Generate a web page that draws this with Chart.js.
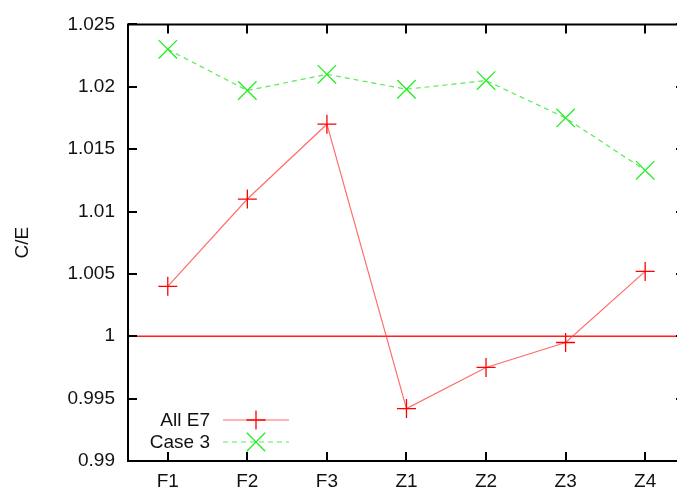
<!DOCTYPE html>
<html>
<head>
<meta charset="utf-8">
<script src="https://cdn.jsdelivr.net/npm/chart.js@4.4.1/dist/chart.umd.min.js"></script>
<style>
  html, body { margin: 0; padding: 0; background: #fff; overflow: hidden; }
  #wrap { width: 677px; height: 488px; }
</style>
</head>
<body>
<div id="wrap"><canvas id="ceChart" width="677" height="488"></canvas></div>
<script>
var categories = ["F1", "F2", "F3", "Z1", "Z2", "Z3", "Z4"];
var allE7 = [1.004, 1.011, 1.017, 0.9942, 0.9975, 0.9995, 1.0052];
var case3 = [1.0230, 1.0197, 1.0210, 1.0198, 1.0205, 1.0175, 1.0133];
var yTicks = [0.99, 0.995, 1, 1.005, 1.01, 1.015, 1.02, 1.025];
var yTickLabels = ["0.99", "0.995", "1", "1.005", "1.01", "1.015", "1.02", "1.025"];
var refLevel = 1;

var FONT = "'Liberation Sans', Arial, sans-serif";

function toPoints(values) {
  return values.map(function (v, i) { return { x: i + 1, y: v }; });
}

// plot area runs right up to the canvas edge (the frame's right side is cut off in the original)
var edgePlugin = {
  id: "edge",
  afterLayout: function (chart) {
    var xs = chart.scales.x;
    var a = chart.chartArea;
    xs.right = chart.width;
    xs.width = xs.right - xs.left;
    xs.configure();
    a.right = chart.width;
    a.width = a.right - a.left;
  }
};

// gnuplot style frame: inward ticks on all sides + legend at bottom left
var framePlugin = {
  id: "frame",
  afterDraw: function (chart) {
    var ctx = chart.ctx;
    var a = chart.chartArea;
    var xs = chart.scales.x, ys = chart.scales.y;
    var right = Math.round(xs.getPixelForValue(7.5));
    var tl = 9;
    ctx.save();
    ctx.strokeStyle = "#000";
    ctx.lineWidth = 2;
    ctx.beginPath();
    ctx.rect(a.left, a.top, right - a.left, a.bottom - a.top);
    ctx.stroke();
    ctx.beginPath();
    yTicks.forEach(function (v) {
      var py = Math.round(ys.getPixelForValue(v));
      ctx.moveTo(a.left, py); ctx.lineTo(a.left + tl, py);
      ctx.moveTo(right, py); ctx.lineTo(right - tl, py);
    });
    categories.forEach(function (c, i) {
      var px = Math.round(xs.getPixelForValue(i + 1));
      ctx.moveTo(px, a.bottom); ctx.lineTo(px, a.bottom - tl);
      ctx.moveTo(px, a.top); ctx.lineTo(px, a.top + tl);
    });
    ctx.stroke();

    // legend
    var rows = [chart.data.datasets[0], chart.data.datasets[1]];
    ctx.font = "19px " + FONT;
    ctx.textAlign = "right";
    ctx.textBaseline = "middle";
    rows.forEach(function (ds, k) {
      var y = 420 + k * 22;
      ctx.fillStyle = "#111";
      ctx.fillText(ds.label, 210, y + 1);
      ctx.strokeStyle = ds.borderColor;
      ctx.lineWidth = 1.2;
      ctx.setLineDash(ds.borderDash || []);
      ctx.beginPath();
      ctx.moveTo(223, y); ctx.lineTo(289, y);
      ctx.stroke();
      ctx.setLineDash([]);
      ctx.strokeStyle = ds.pointBorderColor;
      ctx.lineWidth = 1.3;
      Chart.helpers.drawPoint(ctx, {
        pointStyle: ds.pointStyle,
        radius: ds.pointRadius,
        borderWidth: 1.3
      }, 256, y);
    });
    ctx.restore();
  }
};

new Chart(document.getElementById("ceChart"), {
  type: "line",
  data: {
    datasets: [
      {
        label: "All E7",
        data: toPoints(allE7),
        borderColor: "rgba(255, 60, 60, 0.75)",
        borderWidth: 1.2,
        pointStyle: "cross",
        pointRadius: 9.5,
        pointBorderColor: "#ff0000",
        pointBorderWidth: 1.3,
        tension: 0
      },
      {
        label: "Case 3",
        data: toPoints(case3),
        borderColor: "rgba(60, 230, 60, 0.85)",
        borderWidth: 1.2,
        borderDash: [5, 4],
        pointStyle: "crossRot",
        pointRadius: 13,
        pointBorderColor: "#22ee22",
        pointBorderWidth: 1.3,
        tension: 0
      },
      {
        label: "ref",
        data: [{ x: 0.5, y: refLevel }, { x: 7.5, y: refLevel }],
        borderColor: "#ff2020",
        borderWidth: 1.3,
        pointRadius: 0,
        tension: 0
      }
    ]
  },
  options: {
    responsive: false,
    animation: false,
    layout: { padding: { top: 23, right: 0, left: 0, bottom: 0 } },
    plugins: {
      legend: { display: false },
      tooltip: { enabled: false }
    },
    scales: {
      x: {
        type: "linear",
        min: 0.5,
        max: 7.4,
        grid: { display: false, drawTicks: false },
        border: { display: false },
        afterBuildTicks: function (scale) {
          scale.ticks = categories.map(function (c, i) { return { value: i + 1 }; });
        },
        afterFit: function (scale) { scale.height = 27; },
        ticks: {
          padding: 9,
          color: "#111",
          font: { family: FONT, size: 19 },
          maxRotation: 0,
          callback: function (value) { return categories[value - 1] || ""; }
        }
      },
      y: {
        min: 0.99,
        max: 1.025,
        grid: { display: false, drawTicks: false },
        border: { display: false },
        afterBuildTicks: function (scale) {
          scale.ticks = yTicks.map(function (v) { return { value: v }; });
        },
        afterFit: function (scale) { scale.width = 128; },
        title: {
          display: true,
          text: "C/E",
          color: "#111",
          font: { family: FONT, size: 19 },
          padding: { top: 11, bottom: 0 }
        },
        ticks: {
          padding: 13,
          color: "#111",
          font: { family: FONT, size: 19 },
          callback: function (value, index) { return yTickLabels[index]; }
        }
      }
    }
  },
  plugins: [edgePlugin, framePlugin]
});
</script>
</body>
</html>
